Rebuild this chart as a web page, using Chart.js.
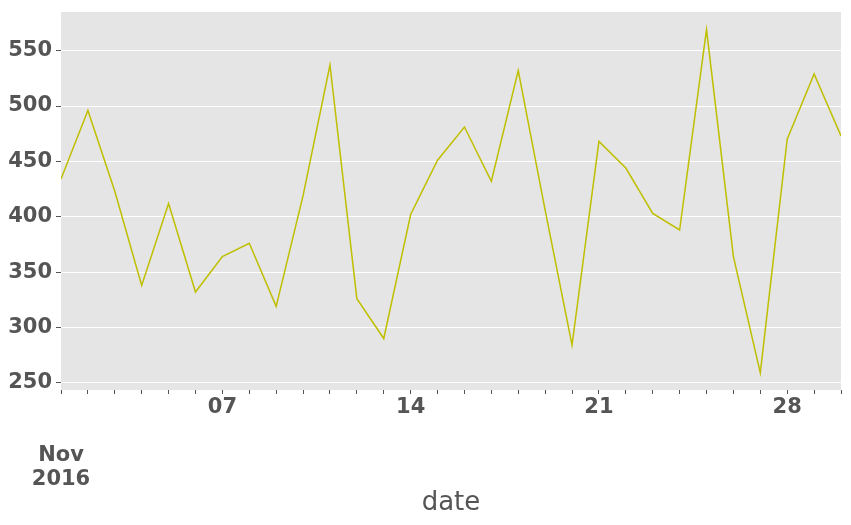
<!DOCTYPE html>
<html>
<head>
<meta charset="utf-8">
<script src="https://cdn.jsdelivr.net/npm/chart.js@4"></script>
<style>
html,body{margin:0;padding:0;background:#fff;}
#wrap{width:851px;height:525px;}
</style>
</head>
<body>
<div id="wrap"><canvas id="c" width="851" height="525"></canvas></div>
<script>
const days = [1,2,3,4,5,6,7,8,9,10,11,12,13,14,15,16,17,18,19,20,21,22,23,24,25,26,27,28,29,30];
const values = [434,496,423,338,412,332,364,376,319,419,537,326,290,402,451,481,432,532,406,284,468,444,403,388,569,364,259,470,529,473];
const majorDays = [7,14,21,28];
const monthLabel = ['Nov','2016'];
const yTicks = [250,300,350,400,450,500,550];

const plotBg = {
  id:'plotBg',
  beforeDraw(chart){
    const a = chart.chartArea, ctx = chart.ctx;
    ctx.save(); ctx.fillStyle = '#E5E5E5';
    ctx.fillRect(a.left, a.top, a.right-a.left, a.bottom-a.top);
    ctx.restore();
  }
};

new Chart(document.getElementById('c'), {
  type:'line',
  data:{datasets:[{
    data: days.map((d,i)=>({x:d,y:values[i]})),
    borderColor:'#BFBF00', borderWidth:1.5, pointRadius:0, tension:0, fill:false
  }]},
  options:{
    responsive:false, animation:false,
    layout:{padding:{top:12,right:10,left:0,bottom:0}},
    plugins:{legend:{display:false},tooltip:{enabled:false}},
    scales:{
      x:{
        type:'linear', min:1, max:30,
        border:{display:false},
        grid:{drawOnChartArea:false, color:'#555', tickColor:'#555', tickLength:4, lineWidth:1},
        ticks:{
          stepSize:1, autoSkip:false, maxRotation:0, padding:2,
          color:'#555', font:{family:'DejaVu Sans', size:21, weight:'bold', lineHeight:1.143},
          callback:(v)=> v===1 ? ['', '', ...monthLabel] : (majorDays.includes(v) ? String(v).padStart(2,'0') : '')
        },
        title:{display:true, text:'date', color:'#555', font:{family:'DejaVu Sans', size:26}, padding:{top:0,bottom:6}},
        afterFit(s){ s.height = 135; s.paddingLeft = 0; s.paddingRight = 0; }
      },
      y:{
        min:243.5, max:584.9,
        border:{display:false},
        grid:{color:'#FFFFFF', lineWidth:1, tickColor:'#555', tickLength:5},
        afterBuildTicks(s){ s.ticks = yTicks.map(v=>({value:v})); },
        ticks:{color:'#555', padding:4, font:{family:'DejaVu Sans', size:21, weight:'bold'}},
        afterFit(s){ s.width = 61; s.paddingTop = 0; s.paddingBottom = 0; }
      }
    }
  },
  plugins:[plotBg]
});
</script>
</body>
</html>
